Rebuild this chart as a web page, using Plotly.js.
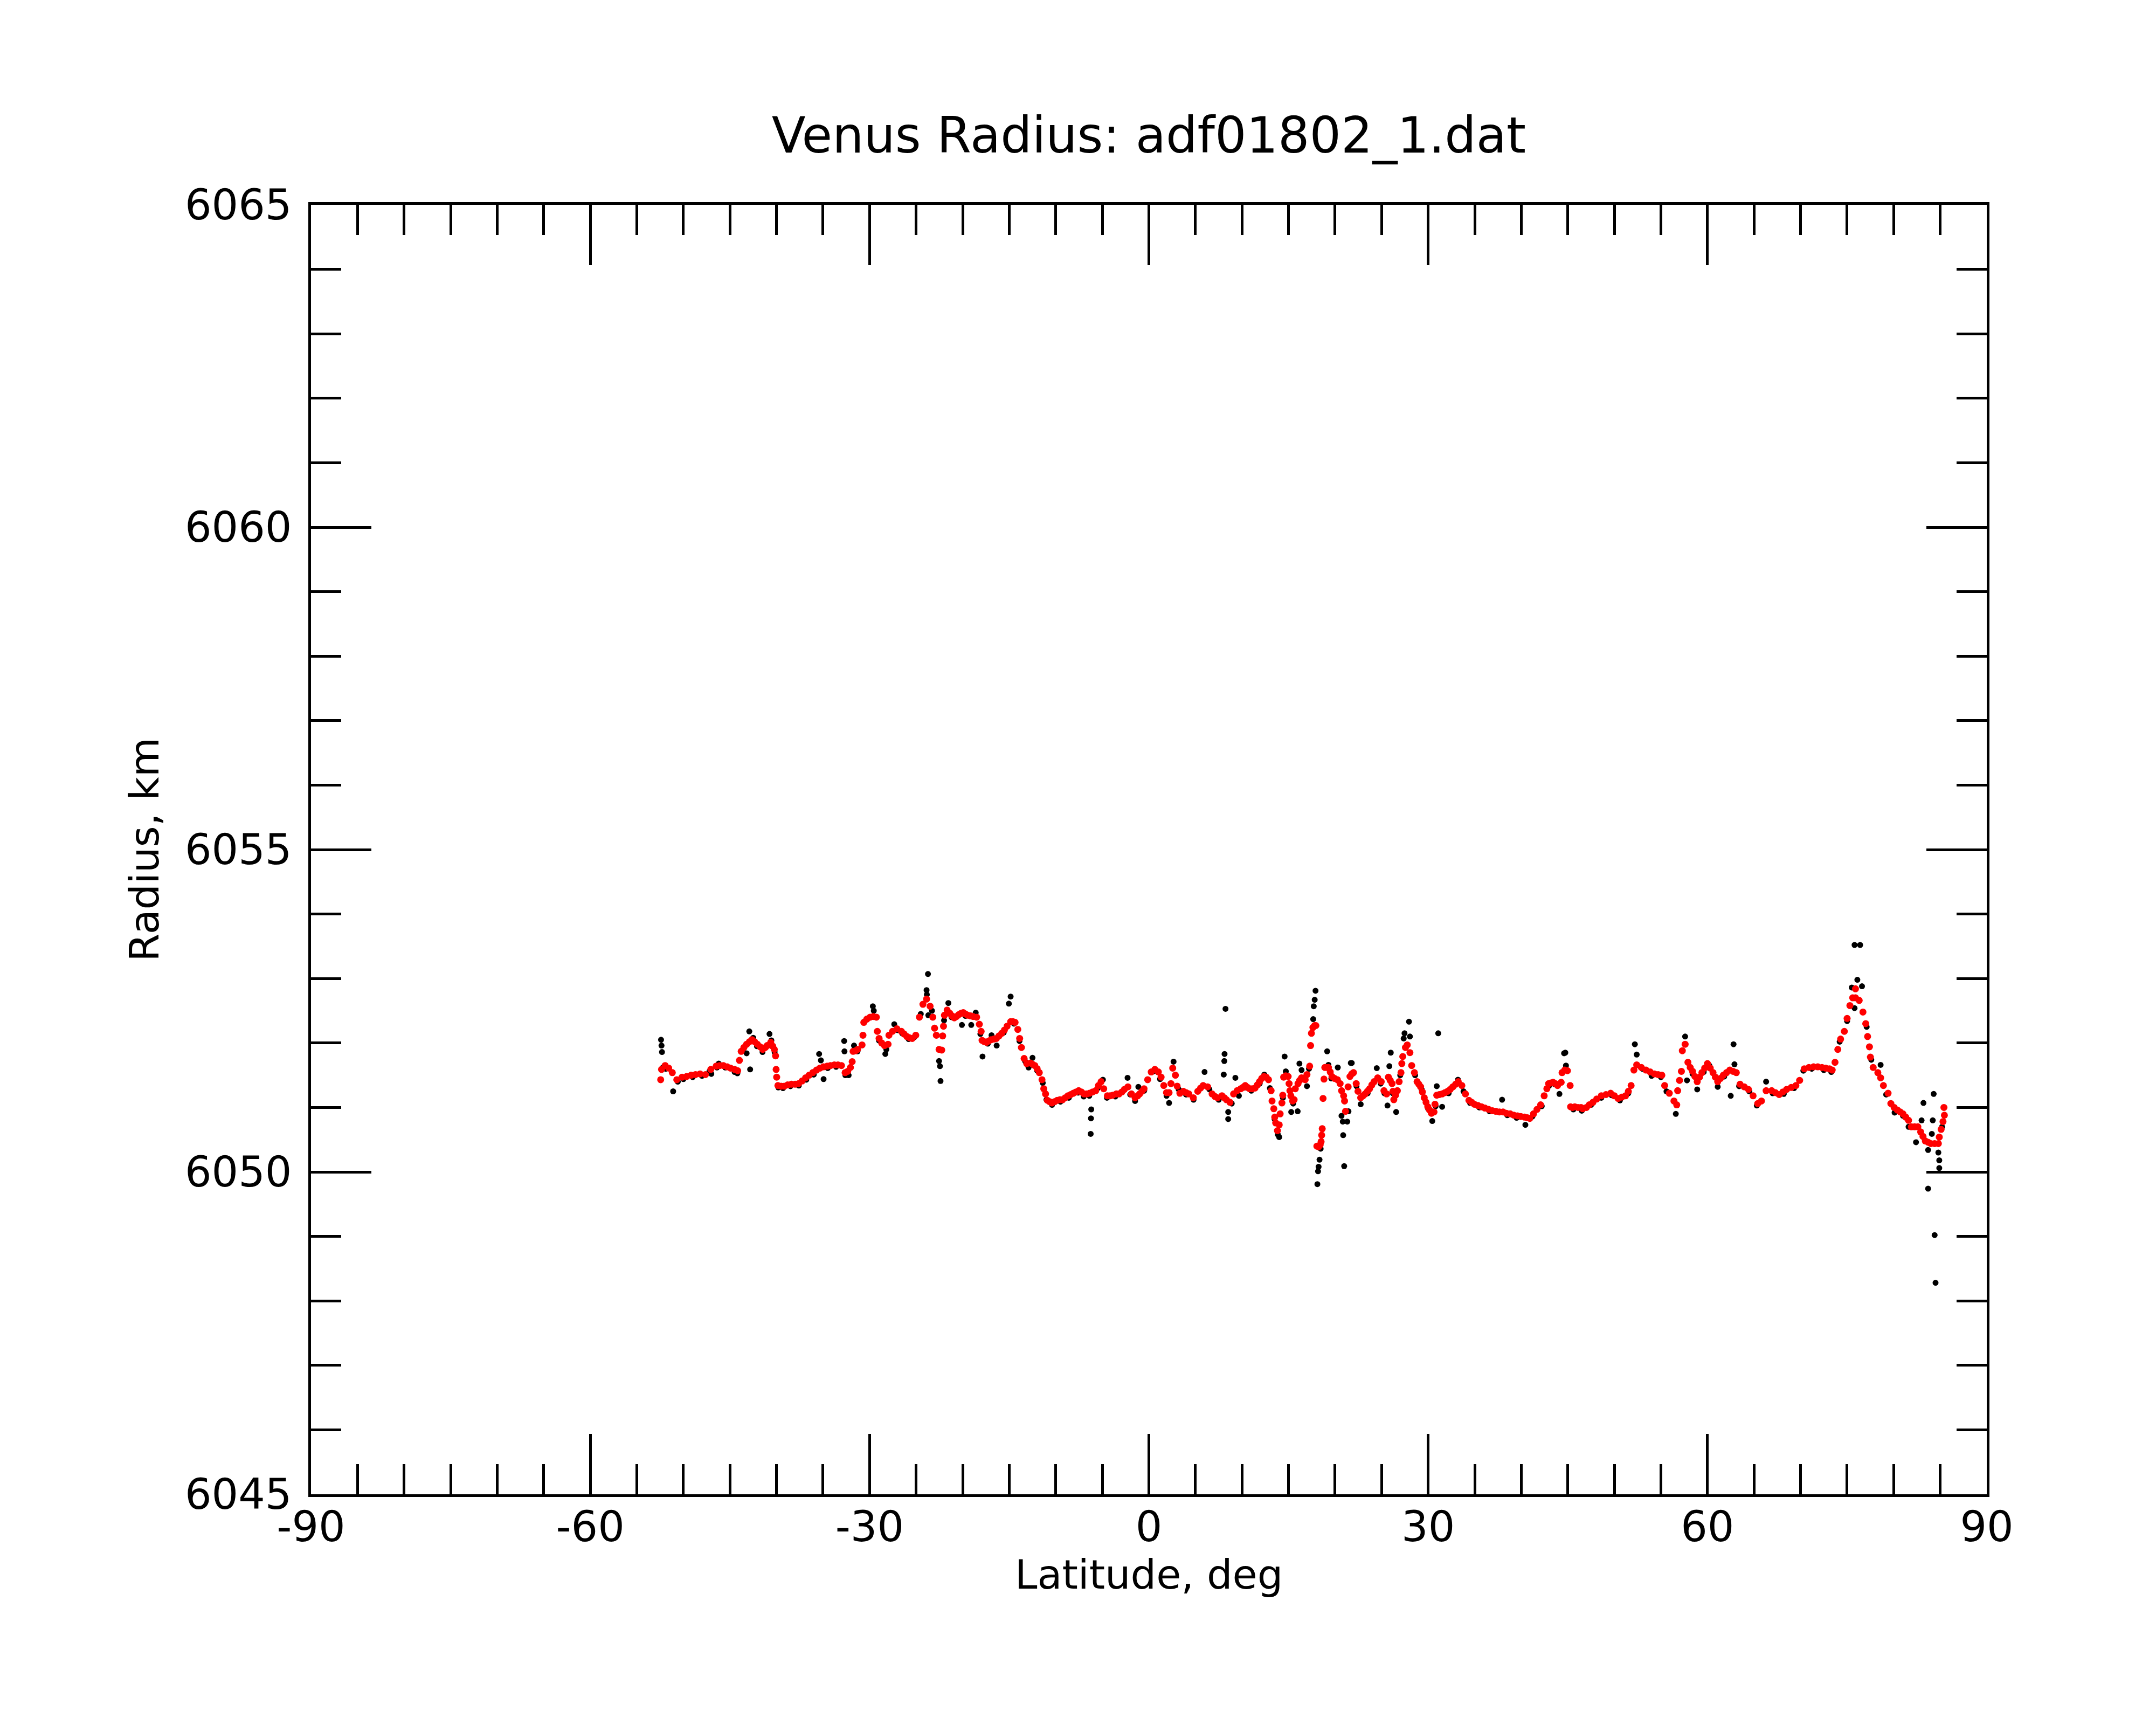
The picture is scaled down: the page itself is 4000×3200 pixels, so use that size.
<!DOCTYPE html>
<html>
<head>
<meta charset="utf-8">
<script src="https://cdn.plot.ly/plotly-3.0.1.min.js"></script>
<style>
  body { margin: 0; background: white; }
  #chart { width: 4000px; height: 3200px; }
</style>
</head>
<body>
<div id="chart"></div>
<script>
// raw radius samples (black)
const rawLat = [
  -52.40, -52.35, -52.30, -52.20, -51.90, -51.10, -50.60, -50.00, -49.00, -48.00,
  -47.20, -47.00, -46.40, -46.20, -45.50, -44.50, -44.20, -43.60, -43.21, -42.92,
  -42.83, -42.50, -42.10, -41.50, -40.75, -40.55, -40.20, -39.80, -39.30, -38.50,
  -37.60, -36.80, -36.00, -35.42, -35.23, -34.94, -34.50, -33.60, -32.73, -32.70,
  -32.60, -32.25, -31.67, -31.30, -30.50, -29.65, -29.55, -29.00, -28.31, -28.20,
  -27.35, -27.00, -26.50, -25.80, -25.20, -24.50, -23.88, -23.85, -23.73, -23.69,
  -23.30, -22.54, -22.44, -22.38, -22.00, -21.54, -21.20, -20.08, -19.70, -19.08,
  -18.60, -18.10, -17.87, -17.30, -16.90, -16.35, -15.60, -15.04, -14.85, -14.50,
  -13.90, -13.30, -12.92, -12.50, -12.00, -11.40, -11.00, -10.40, -9.50, -8.60,
  -7.60, -7.00, -6.40, -6.19, -6.22, -6.25, -5.50, -4.94, -4.50, -3.60,
  -2.29, -2.00, -1.48, -1.13, -0.50, 0.50, 1.20, 1.90, 2.17, 2.65,
  3.20, 4.00, 4.80, 5.98, 6.50, 7.50, 8.04, 8.10, 8.13, 8.23,
  8.52, 8.52, 8.90, 9.29, 9.67, 10.30, 11.00, 11.90, 12.40, 13.00,
  13.50, 13.85, 14.00, 14.40, 14.58, 14.71, 15.29, 15.50, 15.98, 16.17,
  16.40, 16.98, 17.20, 17.65, 17.71, 17.81, 17.90, 18.10, 18.17, 18.23,
  18.33, 18.45, 19.15, 19.29, 19.60, 20.29, 20.69, 20.83, 20.87, 20.98,
  21.31, 21.44, 21.69, 21.79, 22.30, 22.75, 23.50, 24.48, 24.90, 25.30,
  25.63, 25.83, 25.98, 26.20, 26.56, 27.00, 27.37, 27.46, 27.94, 28.04,
  28.60, 29.30, 30.00, 30.44, 30.80, 30.92, 31.08, 31.50, 32.20, 33.20,
  33.80, 34.50, 35.50, 36.60, 37.94, 38.50, 39.50, 40.44, 41.20, 42.20,
  43.00, 43.60, 44.10, 44.60, 44.73, 44.80, 45.60, 46.50, 47.50, 48.60,
  49.70, 50.60, 51.50, 52.20, 52.40, 53.00, 54.00, 55.00, 55.60, 56.60,
  57.60, 57.80, 58.40, 58.90, 59.60, 60.20, 61.10, 61.80, 62.50, 62.80,
  62.90, 63.40, 64.50, 65.30, 66.30, 67.00, 68.20, 69.30, 70.30, 71.20,
  72.50, 73.30, 74.20, 75.00, 75.50, 75.80, 75.80, 76.10, 76.40, 76.60,
  77.10, 77.60, 78.60, 79.20, 80.10, 81.00, 81.60, 82.40, 83.00, 83.20,
  83.70, 83.70, 84.10, 84.20, 84.30, 84.40, 84.50, 84.80, 84.90, 84.90,
  85.20
];
const rawRadius = [
  6052.05, 6051.96, 6051.86, 6051.62, 6051.60, 6051.25, 6051.40, 6051.44, 6051.47, 6051.49,
  6051.56, 6051.52, 6051.62, 6051.68, 6051.62, 6051.55, 6051.53, 6051.90, 6051.84, 6052.18,
  6051.59, 6052.08, 6051.95, 6051.86, 6052.14, 6052.04, 6051.86, 6051.31, 6051.30, 6051.33,
  6051.34, 6051.43, 6051.51, 6051.83, 6051.73, 6051.44, 6051.61, 6051.63, 6052.03, 6051.87,
  6051.50, 6051.50, 6051.96, 6051.87, 6052.34, 6052.57, 6052.50, 6052.04, 6051.83, 6051.90,
  6052.29, 6052.20, 6052.15, 6052.06, 6052.09, 6052.45, 6052.82, 6052.75, 6053.07, 6052.43,
  6052.50, 6051.72, 6051.64, 6051.41, 6052.35, 6052.62, 6052.40, 6052.28, 6052.42, 6052.28,
  6052.47, 6052.14, 6051.79, 6051.99, 6052.12, 6051.96, 6052.16, 6052.61, 6052.72, 6052.30,
  6052.03, 6051.72, 6051.62, 6051.77, 6051.57, 6051.38, 6051.12, 6051.04, 6051.09, 6051.15,
  6051.23, 6051.17, 6051.18, 6050.97, 6050.83, 6050.59, 6051.30, 6051.43, 6051.15, 6051.17,
  6051.46, 6051.20, 6051.10, 6051.32, 6051.26, 6051.56, 6051.44, 6051.18, 6051.07, 6051.71,
  6051.28, 6051.20, 6051.12, 6051.55, 6051.28, 6051.12, 6051.51, 6051.72, 6051.83, 6052.53,
  6050.93, 6050.82, 6051.06, 6051.46, 6051.18, 6051.31, 6051.26, 6051.37, 6051.51, 6051.30,
  6050.82, 6050.58, 6050.54, 6051.15, 6051.79, 6051.56, 6050.93, 6051.06, 6050.94, 6051.68,
  6051.58, 6051.33, 6051.60, 6052.37, 6052.57, 6052.67, 6052.81, 6049.81, 6050.01, 6050.08,
  6050.19, 6050.36, 6051.87, 6051.66, 6051.45, 6051.62, 6050.87, 6050.78, 6050.57, 6050.09,
  6050.78, 6050.94, 6051.69, 6051.69, 6051.33, 6051.05, 6051.22, 6051.61, 6051.37, 6051.22,
  6051.03, 6051.64, 6051.85, 6051.22, 6050.93, 6051.50, 6052.07, 6052.15, 6052.33, 6052.10,
  6051.50, 6051.28, 6050.98, 6050.79, 6051.02, 6051.33, 6052.15, 6051.01, 6051.22, 6051.43,
  6051.25, 6051.07, 6051.00, 6050.94, 6051.12, 6050.88, 6050.84, 6050.73, 6050.86, 6051.02,
  6051.34, 6051.36, 6051.21, 6051.84, 6051.85, 6051.65, 6050.97, 6050.95, 6051.04, 6051.15,
  6051.19, 6051.11, 6051.22, 6051.98, 6051.82, 6051.60, 6051.49, 6051.47, 6051.25, 6050.90,
  6052.10, 6051.42, 6051.52, 6051.28, 6051.55, 6051.65, 6051.32, 6051.48, 6051.18, 6051.98,
  6051.67, 6051.33, 6051.25, 6051.03, 6051.40, 6051.22, 6051.21, 6051.30, 6051.57, 6051.60,
  6051.58, 6051.55, 6052.02, 6052.34, 6052.86, 6052.54, 6053.52, 6052.98, 6053.52, 6052.88,
  6052.25, 6051.74, 6051.66, 6051.20, 6050.92, 6050.87, 6050.70, 6050.46, 6050.80, 6051.07,
  6050.34, 6049.74, 6050.59, 6050.80, 6051.21, 6049.02, 6048.28, 6050.30, 6050.18, 6050.06,
  6050.70
];

// smoothed radius (red)
const smoothLat = [
  -52.44, -52.35, -51.96, -51.58, -51.19, -50.71, -50.14, -49.65, -49.17, -48.70,
  -48.21, -47.63, -47.06, -46.48, -46.10, -45.71, -45.30, -44.94, -44.50, -44.17,
  -43.98, -43.79, -43.50, -43.21, -42.90, -42.63, -42.35, -42.06, -41.75, -41.48,
  -41.20, -41.00, -40.62, -40.40, -40.23, -40.10, -40.04, -39.98, -39.85, -39.50,
  -39.17, -38.80, -38.40, -38.00, -37.63, -37.25, -36.87, -36.50, -36.10, -35.70,
  -35.33, -34.95, -34.56, -34.20, -33.79, -33.40, -33.02, -32.63, -32.35, -32.06,
  -31.87, -31.77, -31.50, -31.29, -30.81, -30.71, -30.62, -30.30, -29.94, -29.60,
  -29.27, -29.17, -28.98, -28.70, -28.40, -28.02, -27.92, -27.54, -27.06, -26.58,
  -26.30, -26.00, -25.70, -25.42, -25.04, -24.65, -24.27, -23.88, -23.50, -23.21,
  -23.02, -22.83, -22.54, -22.25, -22.15, -22.06, -21.96, -21.67, -21.38, -21.15,
  -20.90, -20.66, -20.42, -20.18, -19.94, -19.70, -19.46, -19.15, -18.88, -18.50,
  -18.21, -18.02, -17.92, -17.68, -17.44, -17.20, -16.96, -16.66, -16.38, -16.10,
  -15.81, -15.52, -15.23, -14.85, -14.60, -14.37, -14.08, -13.88, -13.69, -13.40,
  -13.12, -12.73, -12.50, -12.25, -12.00, -11.77, -11.48, -11.29, -11.10, -10.90,
  -10.66, -10.42, -10.13, -9.85, -9.55, -9.27, -8.98, -8.69, -8.40, -8.12,
  -7.83, -7.54, -7.25, -6.96, -6.67, -6.38, -6.05, -5.71, -5.42, -5.13,
  -4.85, -4.46, -4.17, -3.88, -3.50, -3.21, -2.90, -2.63, -2.25, -1.87,
  -1.48, -1.20, -1.00, -0.75, -0.52, -0.13, 0.25, 0.64, 1.02, 1.31,
  1.60, 1.89, 2.17, 2.37, 2.56, 2.85, 3.04, 3.33, 3.71, 4.00,
  4.29, 4.77, 5.25, 5.55, 5.83, 6.31, 6.79, 7.10, 7.37, 7.85,
  8.10, 8.33, 8.71, 9.10, 9.48, 9.87, 10.10, 10.35, 10.60, 10.83,
  11.10, 11.40, 11.65, 11.88, 12.12, 12.37, 12.60, 12.85, 13.13, 13.23,
  13.42, 13.52, 13.62, 13.81, 14.00, 14.10, 14.29, 14.38, 14.48, 14.70,
  14.96, 15.06, 15.15, 15.25, 15.44, 15.60, 15.73, 16.02, 16.20, 16.40,
  16.60, 16.79, 16.98, 17.27, 17.37, 17.46, 17.62, 17.80, 17.94, 18.05,
  18.23, 18.40, 18.50, 18.56, 18.62, 18.71, 18.81, 18.90, 19.10, 19.29,
  19.48, 19.67, 19.95, 20.25, 20.54, 20.70, 20.92, 21.02, 21.12, 21.40,
  21.60, 21.80, 21.98, 22.27, 22.46, 22.75, 23.00, 23.23, 23.47, 23.71,
  23.95, 24.19, 24.58, 24.96, 25.25, 25.54, 25.73, 25.92, 26.12, 26.21,
  26.31, 26.50, 26.69, 26.88, 27.08, 27.17, 27.27, 27.56, 27.75, 28.04,
  28.23, 28.52, 28.81, 29.00, 29.19, 29.38, 29.58, 29.77, 29.96, 30.15,
  30.35, 30.63, 30.73, 30.92, 31.20, 31.50, 31.80, 32.08, 32.37, 32.65,
  32.95, 33.23, 33.62, 34.00, 34.38, 34.67, 34.96, 35.35, 35.73, 36.10,
  36.50, 36.90, 37.27, 37.65, 38.04, 38.40, 38.81, 39.20, 39.58, 39.95,
  40.35, 40.65, 40.92, 41.31, 41.69, 42.08, 42.46, 42.75, 42.94, 43.18,
  43.42, 43.66, 43.90, 44.29, 44.38, 44.67, 44.96, 45.25, 45.30, 45.50,
  45.75, 46.10, 46.42, 46.60, 47.00, 47.30, 47.70, 48.10, 48.60, 49.10,
  49.60, 50.00, 50.40, 50.80, 51.20, 51.50, 51.80, 52.10, 52.40, 52.90,
  53.40, 53.85, 54.30, 54.70, 55.10, 55.40, 55.90, 56.40, 56.70, 56.80,
  57.00, 57.20, 57.30, 57.60, 57.90, 58.15, 58.40, 58.65, 58.90, 59.15,
  59.40, 59.70, 60.00, 60.30, 60.60, 60.85, 61.10, 61.40, 61.70, 62.05,
  62.40, 62.75, 63.10, 63.50, 63.95, 64.40, 64.90, 65.40, 65.80, 66.30,
  66.90, 67.30, 67.70, 68.10, 68.50, 69.00, 69.50, 69.90, 70.40, 70.90,
  71.40, 71.85, 72.30, 72.70, 73.10, 73.40, 73.70, 74.00, 74.30, 74.70,
  75.00, 75.30, 75.60, 75.90, 75.90, 76.30, 76.70, 77.00, 77.20, 77.40,
  77.50, 77.80, 78.30, 78.60, 78.90, 79.40, 79.70, 80.05, 80.40, 80.70,
  81.00, 81.30, 81.60, 81.90, 82.25, 82.60, 82.90, 83.15, 83.40, 83.70,
  84.00, 84.40, 84.80, 84.90, 85.10, 85.30, 85.45, 85.40
];
const smoothRadius = [
  6051.43, 6051.59, 6051.65, 6051.61, 6051.54, 6051.43, 6051.47, 6051.48, 6051.50, 6051.51,
  6051.52, 6051.51, 6051.59, 6051.64, 6051.65, 6051.65, 6051.63, 6051.61, 6051.59, 6051.57,
  6051.73, 6051.87, 6051.93, 6051.98, 6052.02, 6052.05, 6052.02, 6051.98, 6051.94, 6051.90,
  6051.93, 6051.96, 6052.01, 6051.95, 6051.90, 6051.80, 6051.59, 6051.47, 6051.34, 6051.33,
  6051.33, 6051.35, 6051.36, 6051.36, 6051.37, 6051.41, 6051.46, 6051.50, 6051.54, 6051.58,
  6051.61, 6051.63, 6051.64, 6051.65, 6051.66, 6051.66, 6051.65, 6051.54, 6051.56, 6051.62,
  6051.71, 6051.87, 6051.88, 6051.90, 6051.97, 6052.12, 6052.32, 6052.37, 6052.40, 6052.41,
  6052.40, 6052.18, 6052.07, 6052.00, 6051.96, 6051.98, 6052.12, 6052.18, 6052.22, 6052.18,
  6052.14, 6052.10, 6052.08, 6052.07, 6052.12, 6052.40, 6052.60, 6052.68, 6052.57, 6052.40,
  6052.23, 6052.12, 6051.90, 6051.89, 6052.11, 6052.26, 6052.43, 6052.51, 6052.46, 6052.42,
  6052.39, 6052.41, 6052.44, 6052.46, 6052.47, 6052.45, 6052.43, 6052.42, 6052.41, 6052.40,
  6052.29, 6052.18, 6052.04, 6052.02, 6052.01, 6052.03, 6052.05, 6052.06, 6052.07, 6052.11,
  6052.15, 6052.20, 6052.26, 6052.33, 6052.33, 6052.32, 6052.21, 6052.07, 6051.93, 6051.76,
  6051.68, 6051.69, 6051.67, 6051.65, 6051.60, 6051.54, 6051.43, 6051.29, 6051.21, 6051.11,
  6051.09, 6051.07, 6051.09, 6051.11, 6051.12, 6051.12, 6051.15, 6051.18, 6051.20, 6051.22,
  6051.24, 6051.26, 6051.24, 6051.21, 6051.21, 6051.22, 6051.24, 6051.26, 6051.34, 6051.40,
  6051.29, 6051.18, 6051.18, 6051.19, 6051.21, 6051.21, 6051.24, 6051.28, 6051.32, 6051.21,
  6051.15, 6051.18, 6051.21, 6051.25, 6051.29, 6051.43, 6051.55, 6051.59, 6051.55, 6051.47,
  6051.34, 6051.23, 6051.23, 6051.37, 6051.61, 6051.50, 6051.33, 6051.22, 6051.25, 6051.23,
  6051.21, 6051.15, 6051.25, 6051.30, 6051.34, 6051.32, 6051.21, 6051.17, 6051.15, 6051.18,
  6051.15, 6051.12, 6051.08, 6051.21, 6051.26, 6051.29, 6051.31, 6051.34, 6051.31, 6051.29,
  6051.29, 6051.30, 6051.35, 6051.40, 6051.45, 6051.48, 6051.47, 6051.43, 6051.26, 6051.10,
  6050.98, 6050.85, 6050.76, 6050.64, 6050.73, 6050.90, 6051.07, 6051.19, 6051.47, 6051.49,
  6051.48, 6051.37, 6051.26, 6051.18, 6051.10, 6051.12, 6051.29, 6051.37, 6051.42, 6051.46,
  6051.45, 6051.43, 6051.51, 6051.64, 6051.96, 6052.15, 6052.24, 6052.27, 6052.27, 6050.40,
  6050.39, 6050.42, 6050.47, 6050.57, 6050.67, 6051.14, 6051.44, 6051.62, 6051.62, 6051.62,
  6051.55, 6051.48, 6051.45, 6051.43, 6051.37, 6051.26, 6051.18, 6051.10, 6050.94, 6051.32,
  6051.48, 6051.52, 6051.54, 6051.37, 6051.25, 6051.15, 6051.18, 6051.21, 6051.25, 6051.29,
  6051.35, 6051.40, 6051.46, 6051.40, 6051.26, 6051.21, 6051.47, 6051.42, 6051.37, 6051.25,
  6051.12, 6051.19, 6051.26, 6051.40, 6051.54, 6051.68, 6051.79, 6051.93, 6051.97, 6051.85,
  6051.65, 6051.54, 6051.40, 6051.36, 6051.32, 6051.24, 6051.15, 6051.08, 6051.01, 6050.96,
  6050.91, 6050.93, 6051.05, 6051.19, 6051.20, 6051.21, 6051.23, 6051.25, 6051.28, 6051.32,
  6051.36, 6051.40, 6051.34, 6051.21, 6051.11, 6051.08, 6051.05, 6051.03, 6051.01, 6050.99,
  6050.97, 6050.95, 6050.94, 6050.93, 6050.93, 6050.91, 6050.90, 6050.88, 6050.87, 6050.86,
  6050.85, 6050.84, 6050.83, 6050.90, 6050.97, 6051.04, 6051.18, 6051.29, 6051.37, 6051.38,
  6051.39, 6051.37, 6051.34, 6051.39, 6051.54, 6051.58, 6051.57, 6051.34, 6051.01, 6051.00,
  6051.01, 6051.00, 6051.00, 6050.98, 6051.00, 6051.04, 6051.08, 6051.13, 6051.18, 6051.20,
  6051.22, 6051.18, 6051.14, 6051.16, 6051.18, 6051.25, 6051.34, 6051.58, 6051.66, 6051.62,
  6051.58, 6051.55, 6051.52, 6051.51, 6051.50, 6051.34, 6051.22, 6051.10, 6051.04, 6051.26,
  6051.42, 6051.56, 6051.88, 6051.98, 6051.70, 6051.62, 6051.56, 6051.48, 6051.40, 6051.47,
  6051.54, 6051.61, 6051.68, 6051.61, 6051.54, 6051.47, 6051.40, 6051.45, 6051.50, 6051.54,
  6051.58, 6051.56, 6051.54, 6051.36, 6051.32, 6051.28, 6051.18, 6051.06, 6051.10, 6051.26,
  6051.26, 6051.23, 6051.20, 6051.24, 6051.28, 6051.31, 6051.34, 6051.42, 6051.60, 6051.62,
  6051.63, 6051.63, 6051.62, 6051.61, 6051.60, 6051.58, 6051.70, 6051.90, 6052.06, 6052.18,
  6052.38, 6052.58, 6052.70, 6052.70, 6052.84, 6052.66, 6052.48, 6052.30, 6052.10, 6051.94,
  6051.78, 6051.62, 6051.54, 6051.46, 6051.34, 6051.22, 6051.06, 6051.00, 6050.96, 6050.93,
  6050.90, 6050.85, 6050.80, 6050.70, 6050.70, 6050.70, 6050.62, 6050.55, 6050.48, 6050.46,
  6050.44, 6050.44, 6050.44, 6050.54, 6050.66, 6050.78, 6050.88, 6051.00
];

const xTickVals = [-90, -60, -30, 0, 30, 60, 90];
const xTickText = ['-90', '-60', '-30', '0', '30', '60', '90'];
const yTickVals = [6045, 6050, 6055, 6060, 6065];
const yTickText = ['6045', '6050', '6055', '6060', '6065'];

const axisCommon = {
  ticks: 'inside',
  ticklen: 112,
  tickwidth: 5,
  tickcolor: 'black',
  showline: true,
  linewidth: 5,
  linecolor: 'black',
  mirror: 'allticks',
  showgrid: false,
  zeroline: false,
  tickfont: {family: 'DejaVu Sans', size: 78, color: 'black'}
};

const data = [
  {
    x: rawLat,
    y: rawRadius,
    type: 'scatter',
    mode: 'markers',
    marker: {color: 'black', size: 11},
    hoverinfo: 'skip'
  },
  {
    x: smoothLat,
    y: smoothRadius,
    type: 'scatter',
    mode: 'markers',
    marker: {color: 'red', size: 13},
    hoverinfo: 'skip'
  }
];

const layout = {
  width: 4000,
  height: 3200,
  margin: {l: 577, r: 314, t: 380, b: 428},
  paper_bgcolor: 'white',
  plot_bgcolor: 'white',
  showlegend: false,
  font: {family: 'DejaVu Sans', size: 75, color: 'black'},
  title: {
    text: 'Venus Radius: adf01802_1.dat',
    font: {family: 'DejaVu Sans', size: 92, color: 'black'},
    x: 0.5, xref: 'paper',
    y: 1 - 251 / 3200, yref: 'container', yanchor: 'middle'
  },
  xaxis: Object.assign({}, axisCommon, {
    range: [-90, 90],
    tickmode: 'array',
    tickvals: xTickVals,
    ticktext: xTickText,
    ticklabelstandoff: -12,
    minor: {tick0: -90, dtick: 5, ticks: 'inside', ticklen: 56, tickwidth: 5, tickcolor: 'black', showgrid: false},
    title: {text: 'Latitude, deg', font: {family: 'DejaVu Sans', size: 75, color: 'black'}, standoff: 0}
  }),
  yaxis: Object.assign({}, axisCommon, {
    range: [6045, 6065],
    tickmode: 'array',
    tickvals: yTickVals,
    ticktext: yTickText,
    ticklabelstandoff: 15,
    minor: {tick0: 6045, dtick: 1, ticks: 'inside', ticklen: 56, tickwidth: 5, tickcolor: 'black', showgrid: false},
    title: {text: 'Radius, km', font: {family: 'DejaVu Sans', size: 75, color: 'black'}, standoff: 25}
  })
};

Plotly.newPlot('chart', data, layout, {staticPlot: true});
</script>
</body>
</html>
